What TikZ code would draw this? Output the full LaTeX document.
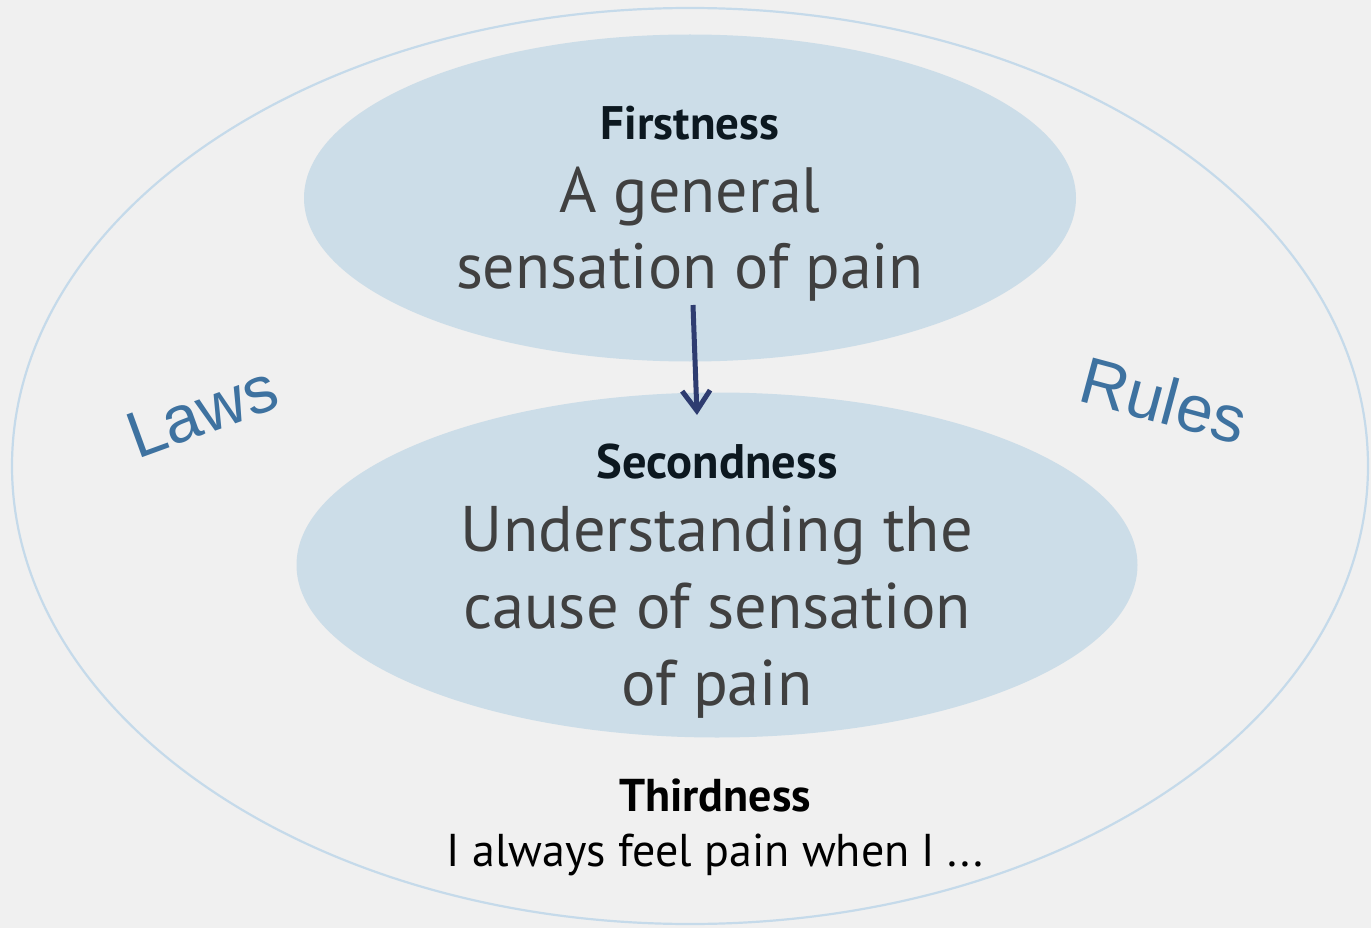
\documentclass[tikz,border=0pt]{standalone}
\usepackage{fontspec}
\usetikzlibrary{shapes.geometric,arrows.meta}
\setmainfont{PT Sans}
\newfontfamily\bodyfont{PT Sans}
\newfontfamily\headfont{PT Sans}
\newfontfamily\narrowfont{PT Sans}
\newfontfamily\sidefont{Liberation Sans}
\definecolor{bgcol}{HTML}{F0F0F0}
\definecolor{ellfill}{HTML}{CCDDE8}
\definecolor{ringcol}{HTML}{C5DAEA}
\definecolor{bodycol}{HTML}{404040}
\definecolor{headcol}{HTML}{0C1820}
\definecolor{sidecol}{HTML}{3E72A0}
\definecolor{arrowcol}{HTML}{2E3C70}
\tikzset{
  bubble/.style={ellipse, fill=ellfill, draw=none, inner sep=0pt},
  headtxt/.style={anchor=base, inner sep=0pt, text=headcol, font=\headfont\bfseries\fontsize{47}{50}\selectfont},
  headtxtb/.style={anchor=base, inner sep=0pt, text=headcol, font=\headfont\bfseries\fontsize{48.5}{50}\selectfont},
  bodytxt/.style={anchor=base, inner sep=0pt, text=bodycol, font=\bodyfont\fontsize{64}{70}\selectfont},
  bodytxtb/.style={anchor=base, inner sep=0pt, text=bodycol, font=\bodyfont\fontsize{64.5}{70}\selectfont},
  thirdhead/.style={anchor=base, inner sep=0pt, text=black, font=\narrowfont\bfseries\fontsize{46}{50}\selectfont},
  thirdtxt/.style={anchor=base, inner sep=0pt, text=black, font=\narrowfont\fontsize{46}{50}\selectfont},
  sidetxt/.style={inner sep=0pt, text=sidecol, font=\sidefont\fontsize{66}{70}\selectfont},
}
\begin{document}
\begin{tikzpicture}[x=1pt,y=-1pt]
\fill[bgcol] (0,0) rectangle (1371,928);
\useasboundingbox (0,0) rectangle (1371,928);
\node[ellipse, draw=ringcol, line width=2.2pt, minimum width=1356pt, minimum height=916pt, inner sep=0pt] (outer) at (690,466) {};
\node[bubble, minimum width=772pt, minimum height=327pt] (first) at (690,198) {};
\node[bubble, minimum width=841pt, minimum height=345pt] (second) at (717,565) {};
\node[headtxt] (fhead) at (690,140) {Firstness};
\node[bodytxt] (fl1) at (690,213) {A general};
\node[bodytxt] (fl2) at (690,288) {sensation of pain};
\node[headtxtb] (shead) at (717,478) {Secondness};
\node[bodytxtb] (sl1) at (717,551) {Understanding the};
\node[bodytxtb] (sl2) at (717,628) {cause of sensation};
\node[bodytxtb] (sl3) at (717,705) {of pain};
\node[thirdhead] (thead) at (715,811) {Thirdness};
\node[thirdtxt] (tl1) at (715,866) {I always feel pain when I ...};
\node[sidetxt, rotate=20] (laws) at (202,412) {Laws};
\node[sidetxt, rotate=-15] (rules) at (1164,400) {Rules};
\coordinate (astart) at (693,305);
\coordinate (aend) at (697,415);
\draw[arrowcol, line width=5pt, -{Straight Barb[length=20pt,width=28pt,line width=5pt]}] (astart) -- (aend);
\end{tikzpicture}
\end{document}
